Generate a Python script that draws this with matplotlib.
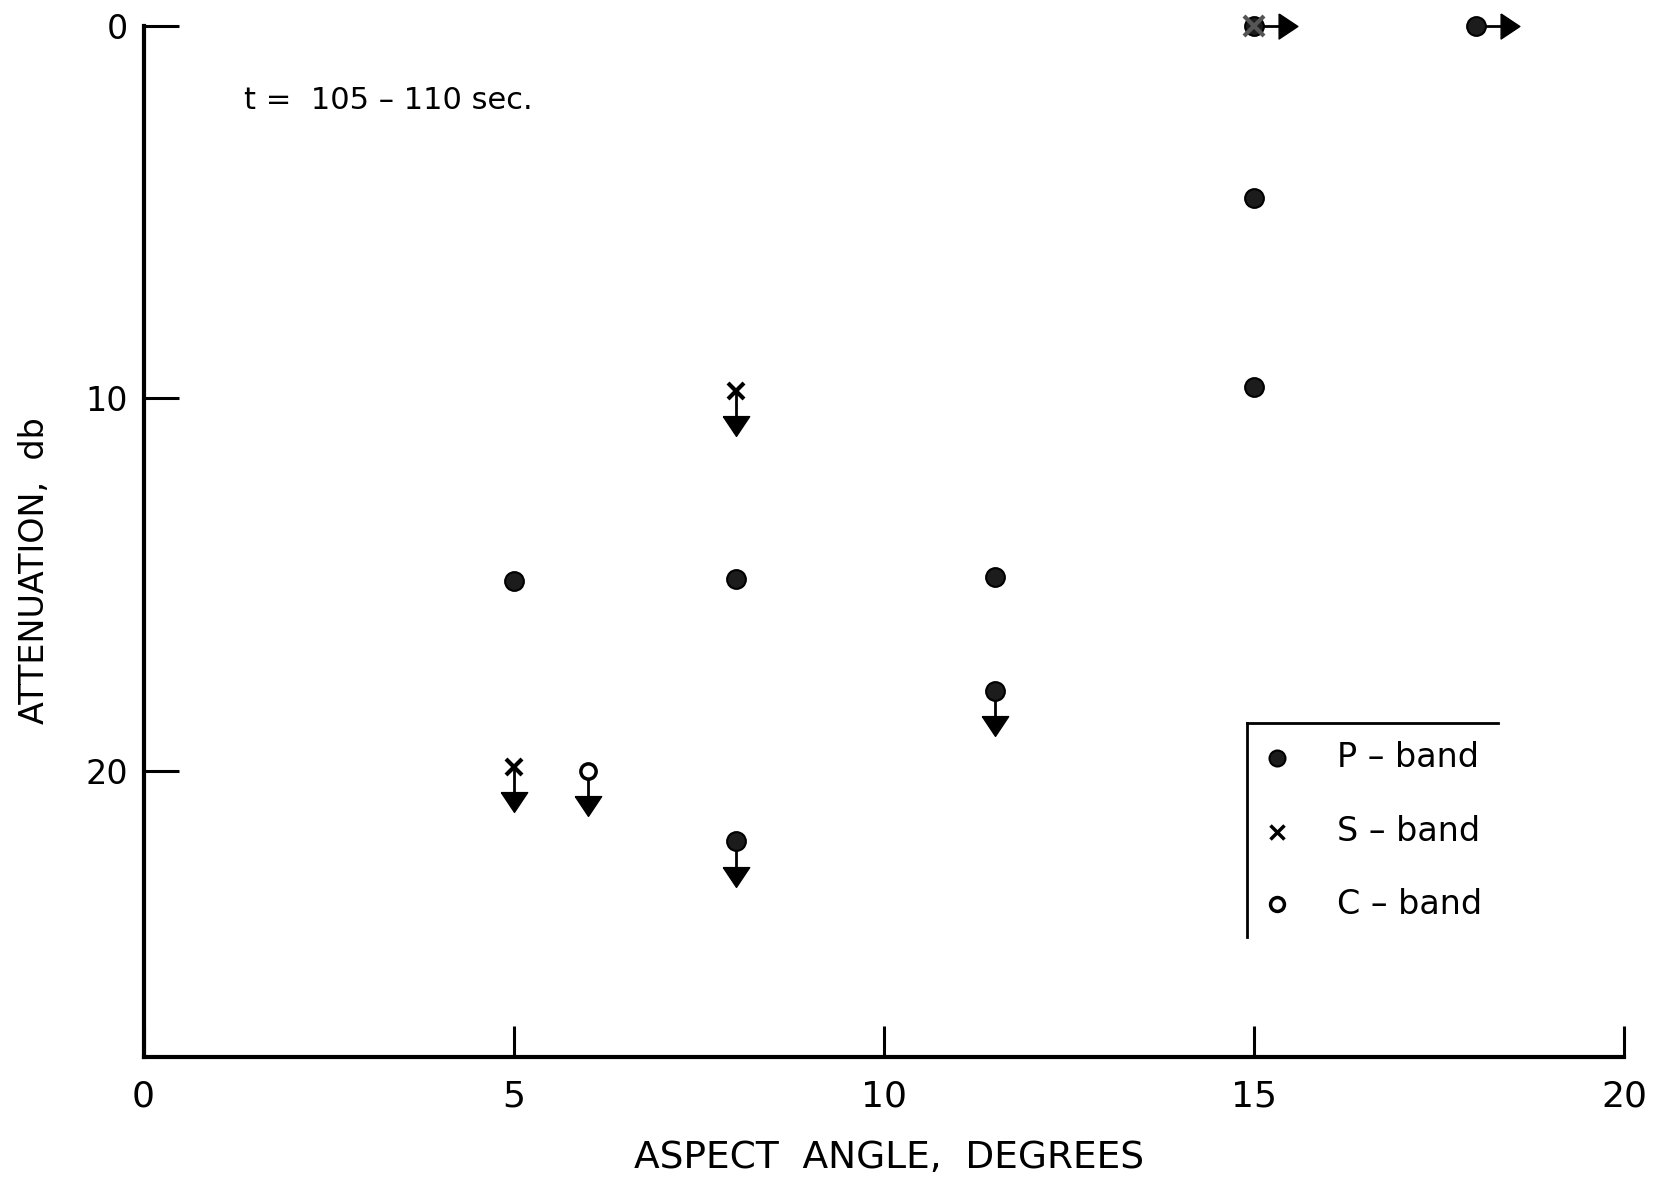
import matplotlib
matplotlib.use("Agg")
import matplotlib.pyplot as plt
import numpy as np

# ---- data -------------------------------------------------------------
# P-band measured attenuation (aspect angle in degrees, attenuation in db)
p_angle = [5, 8, 11.5, 15, 15]
p_atten = [14.9, 14.85, 14.8, 4.6, 9.7]
# P-band lower limits on attenuation (arrow down)
p_lim_angle = [8, 11.5]
p_lim_atten = [21.9, 17.85]
# P-band lower limits on aspect angle (arrow right)
p_ang_lim_angle = [15, 18]
p_ang_lim_atten = [0, 0]

# S-band
s_lim_angle = [5, 8]
s_lim_atten = [19.9, 9.8]
s_ang_lim_angle = [15]
s_ang_lim_atten = [0]

# C-band
c_lim_angle = [6]
c_lim_atten = [20.0]
c_ang_lim_angle = [15]
c_ang_lim_atten = [0]

x_ticks = [0, 5, 10, 15, 20]
x_tick_labels = ["0", "5", "10", "15", "20"]
y_ticks = [0, 10, 20]
y_tick_labels = ["0", "10", "20"]

legend_labels = ["P \u2013 band", "S \u2013 band", "C \u2013 band"]
time_label = "t =  105 \u2013 110 sec."

# ---- styling ----------------------------------------------------------
plt.rcParams["font.family"] = ["DejaVu Sans"]
INK = "black"
P_FACE = "#1c1c1c"

fig = plt.figure(figsize=(16.54, 11.83), dpi=100)
ax = fig.add_axes([0.0868, 0.1065, 0.8953, 0.8712])
ax.set_xlim(0, 20)
ax.set_ylim(27.7, 0)

for side in ("top", "right"):
    ax.spines[side].set_visible(False)
for side in ("left", "bottom"):
    ax.spines[side].set_linewidth(3.0)
    ax.spines[side].set_color(INK)

ax.set_xticks(x_ticks)
ax.set_xticklabels(x_tick_labels, fontsize=26)
ax.set_yticks(y_ticks)
ax.set_yticklabels(y_tick_labels, fontsize=24)
ax.tick_params(axis="x", direction="in", length=22, width=2.2, pad=16,
               colors=INK)
ax.tick_params(axis="y", direction="in", length=25, width=2.2, pad=11,
               colors=INK)

ax.set_xlabel("ASPECT  ANGLE,  DEGREES", fontsize=27, va="center")
ax.xaxis.set_label_coords(0.5034, -0.098)
ax.set_ylabel("ATTENUATION,  db", fontsize=24, va="center")
ax.yaxis.set_label_coords(-0.0739, 0.4716)

# arrow geometry (stem lengths in data units)
DOWN = 0.95
RIGHT = 0.45
tri_down = [(-1, 0.75), (1, 0.75), (0, -0.75), (-1, 0.75)]
tri_right = [(-0.75, 1), (-0.75, -1), (0.75, 0), (-0.75, 1)]


def down_arrows(xs, ys):
    xs = np.asarray(xs, float)
    ys = np.asarray(ys, float)
    for x, y in zip(xs, ys):
        ax.plot([x, x], [y, y + DOWN], color=INK, lw=2.0, clip_on=False,
                zorder=2)
    ax.plot(xs, ys + DOWN, ls="none", marker=tri_down, ms=19, color=INK,
            clip_on=False, zorder=3)


def right_arrows(xs, ys):
    xs = np.asarray(xs, float)
    ys = np.asarray(ys, float)
    for x, y in zip(xs, ys):
        ax.plot([x, x + RIGHT], [y, y], color=INK, lw=2.0, clip_on=False,
                zorder=2)
    ax.plot(xs + RIGHT, ys, ls="none", marker=tri_right, ms=18, color=INK,
            clip_on=False, zorder=3)


# arrows first so the symbols sit on top
down_arrows(p_lim_angle, p_lim_atten)
down_arrows(s_lim_angle, s_lim_atten)
down_arrows(c_lim_angle, c_lim_atten)
right_arrows(p_ang_lim_angle, p_ang_lim_atten)

p_kw = dict(ls="none", marker="o", ms=13.5, mfc=P_FACE, mec=INK, mew=1.5,
            clip_on=False, zorder=4)
s_kw = dict(ls="none", marker="x", ms=12, mec=INK, mew=3.0,
            clip_on=False, zorder=5)
c_kw = dict(ls="none", marker="o", ms=11, mfc="white", mec=INK, mew=2.5,
            clip_on=False, zorder=4)

ax.plot(p_angle, p_atten, **p_kw)
ax.plot(p_lim_angle, p_lim_atten, **p_kw)
ax.plot(p_ang_lim_angle, p_ang_lim_atten, **p_kw)
ax.plot(s_lim_angle, s_lim_atten, **s_kw)
ax.plot(s_ang_lim_angle, s_ang_lim_atten, **{**s_kw, "mec": "#555555",
                                              "ms": 15, "zorder": 6})
ax.plot(c_lim_angle, c_lim_atten, **c_kw)

# time interval note
ax.text(1.35, 2.0, time_label, fontsize=22, ha="left", va="center",
        color=INK)

# ---- key (open box: left and top rules only) --------------------------
box_x0, box_x1 = 14.90, 18.29
box_y0, box_y1 = 18.72, 24.48
ax.plot([box_x0, box_x1], [box_y0, box_y0], color=INK, lw=2.0, clip_on=False)
ax.plot([box_x0, box_x0], [box_y0, box_y1], color=INK, lw=2.0, clip_on=False)

row_y = [19.66, 21.65, 23.6]
mark_x = 15.31
text_x = 16.12
ax.plot([mark_x], [row_y[0]], ls="none", marker="o", ms=11.5, mfc=P_FACE,
        mec=INK, mew=1.5)
ax.plot([mark_x], [row_y[1]], ls="none", marker="x", ms=10, mec=INK, mew=2.5)
ax.plot([mark_x], [row_y[2]], ls="none", marker="o", ms=10, mfc="white",
        mec=INK, mew=2.5)
for y, lab in zip(row_y, legend_labels):
    ax.text(text_x, y, lab, fontsize=24, ha="left", va="center", color=INK)

fig.savefig("out.png", dpi=100, facecolor="white")
